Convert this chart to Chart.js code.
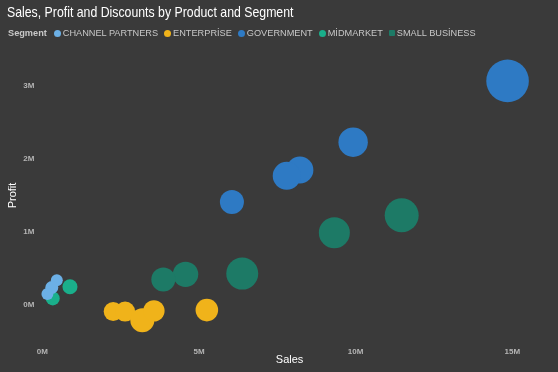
<!DOCTYPE html>
<html>
<head>
<meta charset="utf-8">
<script src="https://cdn.jsdelivr.net/npm/chart.js@4.4.1/dist/chart.umd.min.js"></script>
<style>
  html, body { margin: 0; padding: 0; background: #3a3a3a; }
  #wrap { position: relative; width: 558px; height: 372px; overflow: hidden; background: #3a3a3a; }
  #c { position: absolute; left: 0; top: 0; }
  #title { position: absolute; left: 7px; top: 4px; font-family: "Liberation Sans", Arial, sans-serif; font-size: 15px; line-height: 15px; color: #ffffff; white-space: nowrap; transform: scaleX(0.82); transform-origin: 0 0; }
  #legend { position: absolute; left: 8px; top: 28.5px; display: flex; align-items: center; font-family: "Liberation Sans", Arial, sans-serif; font-size: 9.2px; line-height: 9px; color: #c8c8c8; white-space: nowrap; }
  #legend .head { font-weight: bold; margin-right: 7px; }
  #legend .item { display: flex; align-items: center; margin-right: 6px; }
  #legend .mk { display: inline-block; width: 7px; height: 7px; border-radius: 50%; margin-right: 2px; }
  #legend .mk.sq { border-radius: 1px; width: 6px; height: 6px; }
</style>
</head>
<body>
<div id="wrap">
  <canvas id="c" width="558" height="372"></canvas>
  <div id="title">Sales, Profit and Discounts by Product and Segment</div>
  <div id="legend"></div>
</div>
<script>
// ---- Data ----
const segments = ['CHANNEL PARTNERS', 'ENTERPRİSE', 'GOVERNMENT', 'MİDMARKET', 'SMALL BUSİNESS'];
const segmentColors = ['#6cb0e6', '#f0b31a', '#2e7ac4', '#1aaf8b', '#1d7a66'];

const channelSales     = [460000, 300000, 160000];
const channelProfit    = [340000, 240000, 150000];
const channelDiscounts = [71000, 84000, 71000];

const enterpriseSales     = [2260000, 2640000, 3190000, 3560000, 5250000];
const enterpriseProfit    = [-90000, -90000, -210000, -80000, -70000];
const enterpriseDiscounts = [179000, 198000, 286000, 227000, 253000];

const governmentSales     = [14850000, 9920000, 8220000, 7800000, 6050000];
const governmentProfit    = [3070000, 2230000, 1850000, 1770000, 1410000];
const governmentDiscounts = [900000, 429000, 362000, 389000, 286000];

const midmarketSales     = [880000, 330000];
const midmarketProfit    = [250000, 90000];
const midmarketDiscounts = [112000, 97000];

const smallBizSales     = [11470000, 9320000, 6380000, 4570000, 3860000];
const smallBizProfit    = [1230000, 990000, 430000, 420000, 350000];
const smallBizDiscounts = [573000, 477000, 508000, 320000, 286000];

const xTickValues = [0, 5000000, 10000000, 15000000];
const yTickValues = [0, 1000000, 2000000, 3000000];

// ---- Build ----
const seriesSales = [channelSales, enterpriseSales, governmentSales, midmarketSales, smallBizSales];
const seriesProfit = [channelProfit, enterpriseProfit, governmentProfit, midmarketProfit, smallBizProfit];
const seriesDisc = [channelDiscounts, enterpriseDiscounts, governmentDiscounts, midmarketDiscounts, smallBizDiscounts];

const sizeFactor = 0.71; // px per sqrt(thousand)
const radiusOf = d => sizeFactor * Math.sqrt(d / 1000);

const datasets = segments.map((name, i) => ({
  label: name,
  data: seriesSales[i].map((s, j) => ({ x: s, y: seriesProfit[i][j], r: radiusOf(seriesDisc[i][j]) })),
  backgroundColor: segmentColors[i],
  borderWidth: 0,
  hoverBorderWidth: 0,
  hoverRadius: 0,
  clip: false
}));

// HTML legend
const legend = document.getElementById('legend');
const head = document.createElement('span');
head.className = 'head';
head.textContent = 'Segment';
legend.appendChild(head);
segments.forEach((name, i) => {
  const it = document.createElement('span');
  it.className = 'item';
  const mk = document.createElement('span');
  mk.className = 'mk' + (i === 4 ? ' sq' : '');
  mk.style.background = segmentColors[i];
  it.appendChild(mk);
  const tx = document.createElement('span');
  tx.textContent = name;
  it.appendChild(tx);
  legend.appendChild(it);
});

const fmtM = v => (v / 1000000) + 'M';
const tickFont = { family: '"Liberation Sans", Arial, sans-serif', size: 8, weight: 'bold' };
const titleFont = { family: '"Liberation Sans", Arial, sans-serif', size: 11 };

new Chart(document.getElementById('c'), {
  type: 'bubble',
  data: { datasets },
  options: {
    responsive: false,
    devicePixelRatio: 1,
    animation: false,
    events: [],
    layout: { padding: { top: 49.5, right: 14.3, bottom: 0, left: 0 } },
    plugins: { legend: { display: false }, title: { display: false }, tooltip: { enabled: false } },
    scales: {
      x: {
        type: 'linear',
        min: 0,
        max: 15780000,
        grid: { display: false, drawTicks: false },
        border: { display: false },
        afterBuildTicks: s => { s.ticks = xTickValues.map(v => ({ value: v })); },
        afterFit: s => { s.height = 30.5; s.paddingLeft = 0; s.paddingRight = 0; },
        ticks: { color: '#b4b4b4', font: tickFont, padding: 5, maxRotation: 0, callback: fmtM },
        title: { display: true, text: 'Sales', color: '#ffffff', font: titleFont, padding: { top: 0, bottom: 5.4 } }
      },
      y: {
        type: 'linear',
        min: -500000,
        max: 3500000,
        grid: { display: false, drawTicks: false },
        border: { display: false },
        afterBuildTicks: s => { s.ticks = yTickValues.map(v => ({ value: v })); },
        afterFit: s => { s.width = 42.4; s.paddingTop = 0; s.paddingBottom = 0; },
        ticks: { color: '#b4b4b4', font: tickFont, padding: 8, callback: fmtM },
        title: { display: true, text: 'Profit', color: '#ffffff', font: titleFont, padding: { top: 6, bottom: 0 } }
      }
    }
  }
});
</script>
</body>
</html>
